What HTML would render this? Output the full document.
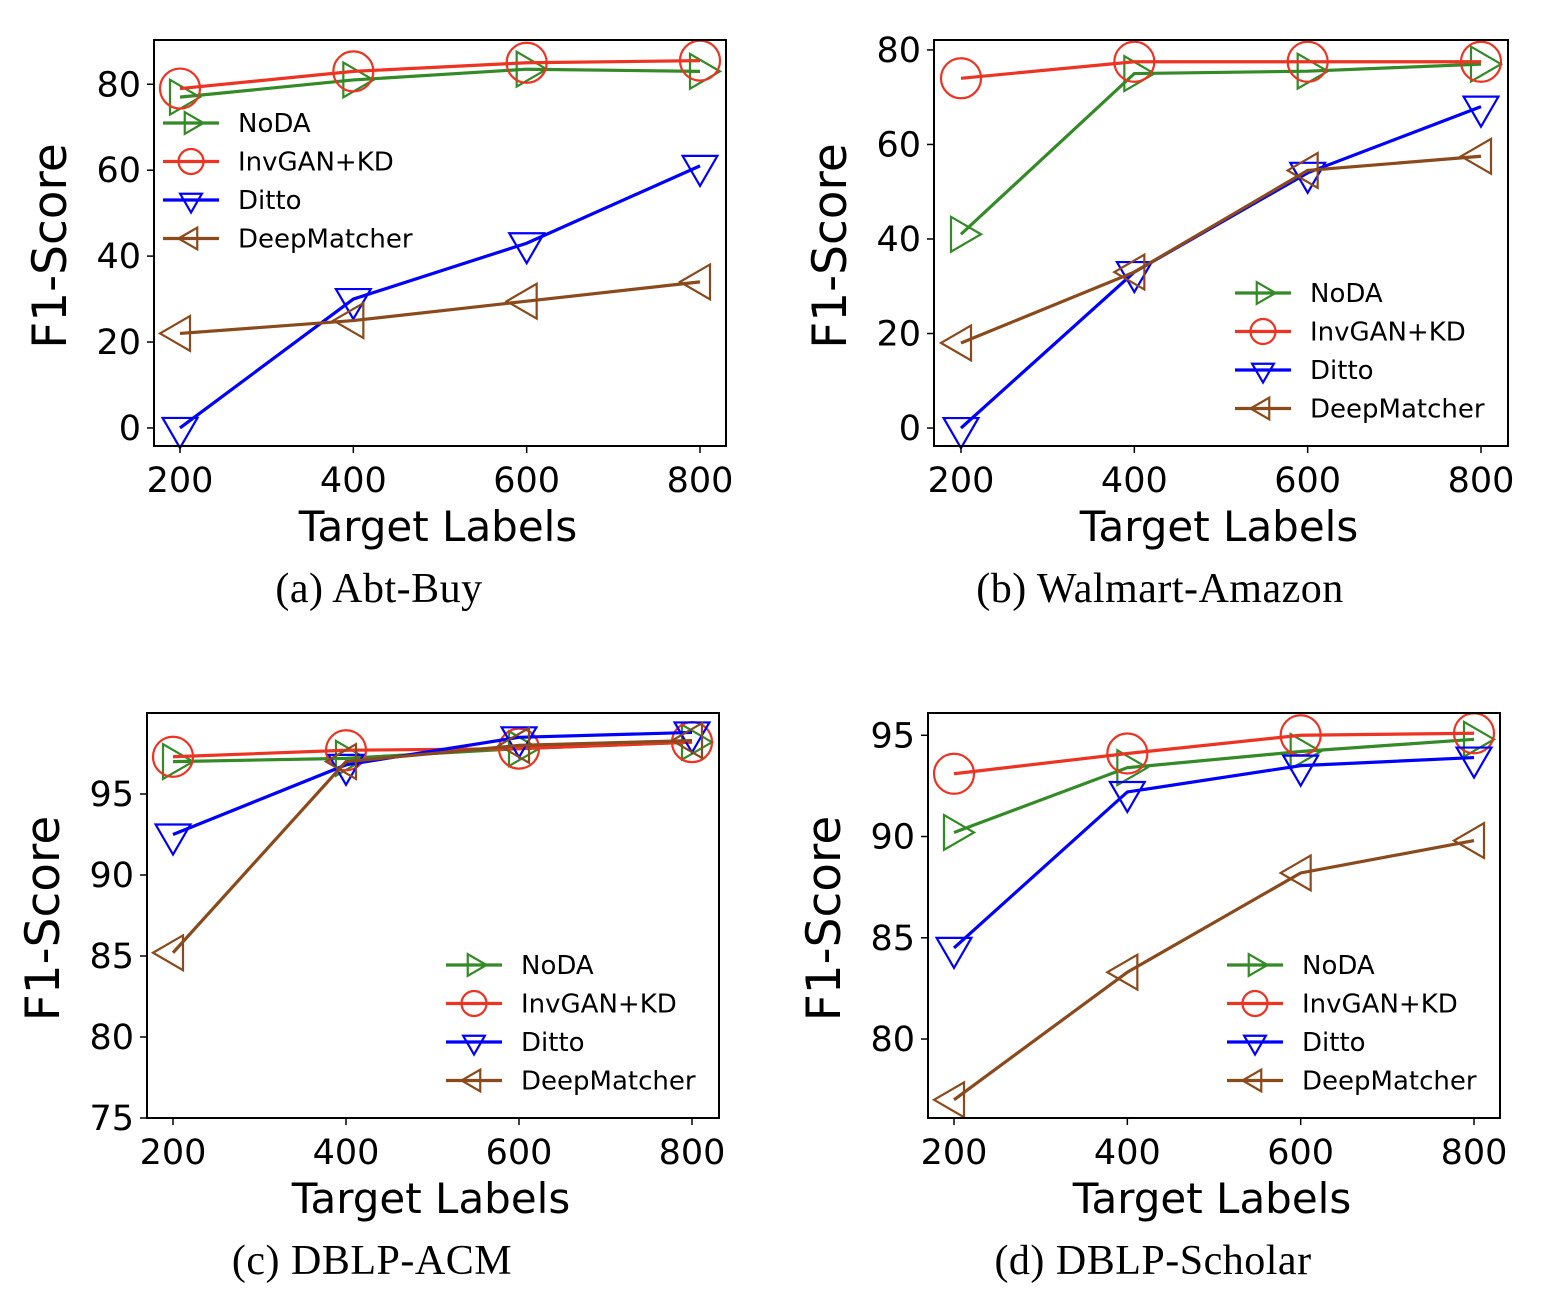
<!DOCTYPE html>
<html><head><meta charset="utf-8"><style>
body{margin:0;background:#fff;}
svg{display:block;}
</style></head><body>
<svg id="fig" width="1548" height="1294" xmlns="http://www.w3.org/2000/svg"></svg>
<script>
const xCats = [200, 400, 600, 800];
const seriesNames = ["NoDA", "InvGAN+KD", "Ditto", "DeepMatcher"];
const aNoDA = [77, 81, 83.5, 83];
const aInv = [79, 83, 85, 85.5];
const aDitto = [0, 30, 43, 61];
const aDM = [22, 25, 29.5, 34];
const bNoDA = [41, 75, 75.5, 77];
const bInv = [74, 77.5, 77.5, 77.5];
const bDitto = [0, 33, 54, 68];
const bDM = [18, 33, 54.5, 57.5];
const cNoDA = [97, 97.2, 97.8, 98.2];
const cInv = [97.3, 97.7, 97.8, 98.2];
const cDitto = [92.5, 96.8, 98.5, 98.8];
const cDM = [85.2, 97.0, 98.0, 98.3];
const dNoDA = [90.2, 93.4, 94.2, 94.8];
const dInv = [93.1, 94.1, 95, 95.1];
const dDitto = [84.5, 92.2, 93.5, 93.9];
const dDM = [77, 83.3, 88.2, 89.8];
const aTicks = [0, 20, 40, 60, 80];
const bTicks = [0, 20, 40, 60, 80];
const cTicks = [75, 80, 85, 90, 95];
const dTicks = [80, 85, 90, 95];

const colors = ["#338a26", "#ee3322", "#0000ff", "#8b4a1c"];
const NS = "http://www.w3.org/2000/svg";
const svg = document.getElementById("fig");
function mk(tag, attrs, parent, text) {
  const e = document.createElementNS(NS, tag);
  for (const k in attrs) e.setAttribute(k, attrs[k]);
  if (text !== undefined) e.textContent = text;
  (parent || svg).appendChild(e);
  return e;
}
function marker(g, type, cx, cy, r, color, sw) {
  let el;
  if (type === 1) {
    el = mk("circle", {cx, cy, r, fill: "none", stroke: color, "stroke-width": sw}, g);
  } else {
    let pts;
    if (type === 0) pts = [[cx + r, cy], [cx - r * 0.5, cy - r * 0.87], [cx - r * 0.5, cy + r * 0.87]];
    else if (type === 2) pts = [[cx, cy + r], [cx - r * 0.87, cy - r * 0.5], [cx + r * 0.87, cy - r * 0.5]];
    else pts = [[cx - r, cy], [cx + r * 0.5, cy - r * 0.87], [cx + r * 0.5, cy + r * 0.87]];
    el = mk("polygon", {points: pts.map(p => p.join(",")).join(" "), fill: "none", stroke: color, "stroke-width": sw}, g);
  }
  return el;
}
const panels = [
  {id: "a", box: [154, 40, 726, 446], x200: 180, x800: 700, ymin: -4.2, ymax: 90.3, ticks: aTicks, data: [aNoDA, aInv, aDitto, aDM], leg: [163, 123], cap: "(a)  Abt-Buy", capX: 379},
  {id: "b", box: [934, 40, 1508, 446], x200: 961, x800: 1481, ymin: -3.8, ymax: 82.1, ticks: bTicks, data: [bNoDA, bInv, bDitto, bDM], leg: [1235, 293], cap: "(b)  Walmart-Amazon", capX: 1160},
  {id: "c", box: [147, 713, 719, 1118], x200: 173, x800: 692, ymin: 75, ymax: 100, ticks: cTicks, data: [cNoDA, cInv, cDitto, cDM], leg: [446, 965], cap: "(c)  DBLP-ACM", capX: 372},
  {id: "d", box: [928, 713, 1500, 1118], x200: 954, x800: 1474, ymin: 76.1, ymax: 96.1, ticks: dTicks, data: [dNoDA, dInv, dDitto, dDM], leg: [1227, 965], cap: "(d)  DBLP-Scholar", capX: 1153}
];
const sans = "'DejaVu Sans', 'Liberation Sans', sans-serif";
panels.forEach(p => {
  const g = mk("g", {});
  
  
  const [l, t, r, b] = p.box;
  const xs = v => p.x200 + (v - 200) / 600 * (p.x800 - p.x200);
  const ys = v => b - (v - p.ymin) / (p.ymax - p.ymin) * (b - t);
  p.data.forEach((vals, si) => {
    const sg = mk("g", {}, g);
    
    
    const line = mk("polyline", {points: vals.map((v, i) => xs(xCats[i]) + "," + ys(v)).join(" "), fill: "none", stroke: colors[si], "stroke-width": 3.2}, sg);
    
    
    vals.forEach((v, i) => {
      const m = marker(sg, si, xs(xCats[i]), ys(v), 20, colors[si], 2.2);
      
      
    });
  });
  const frame = mk("rect", {x: l, y: t, width: r - l, height: b - t, fill: "none", stroke: "#000", "stroke-width": 2}, g);
  
  
  xCats.forEach(v => {
    mk("line", {x1: xs(v), x2: xs(v), y1: b, y2: b + 7, stroke: "#000", "stroke-width": 1.5}, g);
    const tx = mk("text", {x: xs(v), y: b + 46, "font-size": 35, "font-family": sans, "text-anchor": "middle"}, g, v);
    
    
  });
  p.ticks.forEach(v => {
    mk("line", {x1: l, x2: l - 7, y1: ys(v), y2: ys(v), stroke: "#000", "stroke-width": 1.5}, g);
    const ty = mk("text", {x: l - 13, y: ys(v) + 12, "font-size": 35, "font-family": sans, "text-anchor": "end"}, g, v);
    
    
  });
  const xt = mk("text", {x: (l + r) / 2 - 2, y: b + 95, "font-size": 42, "font-family": sans, "text-anchor": "middle"}, g, "Target Labels");
  
  
  const yx = l - 88, yy = (t + b) / 2 + 3;
  const yt = mk("text", {x: yx, y: yy, "font-size": 47, "font-family": sans, "text-anchor": "middle", transform: `rotate(-90 ${yx} ${yy})`}, g, "F1-Score");
  
  
  const cap = mk("text", {x: p.capX, y: b + 156, "font-size": 42, "font-family": "'Liberation Serif', serif", "text-anchor": "middle", "letter-spacing": 0.5}, g, p.cap);
  
  
  const lg = mk("g", {}, g);
  
  
  seriesNames.forEach((n, si) => {
    const eg = mk("g", {}, lg);
    
    
    const [lx, ly] = [p.leg[0], p.leg[1] + si * 38.5];
    mk("line", {x1: lx, x2: lx + 56, y1: ly, y2: ly, stroke: colors[si], "stroke-width": 3.2}, eg);
    marker(eg, si, lx + 28, ly, 12.5, colors[si], 2.2);
    mk("text", {x: lx + 75, y: ly + 9, "font-size": 26, "font-family": sans}, eg, n);
  });
});
</script>
</body></html>
